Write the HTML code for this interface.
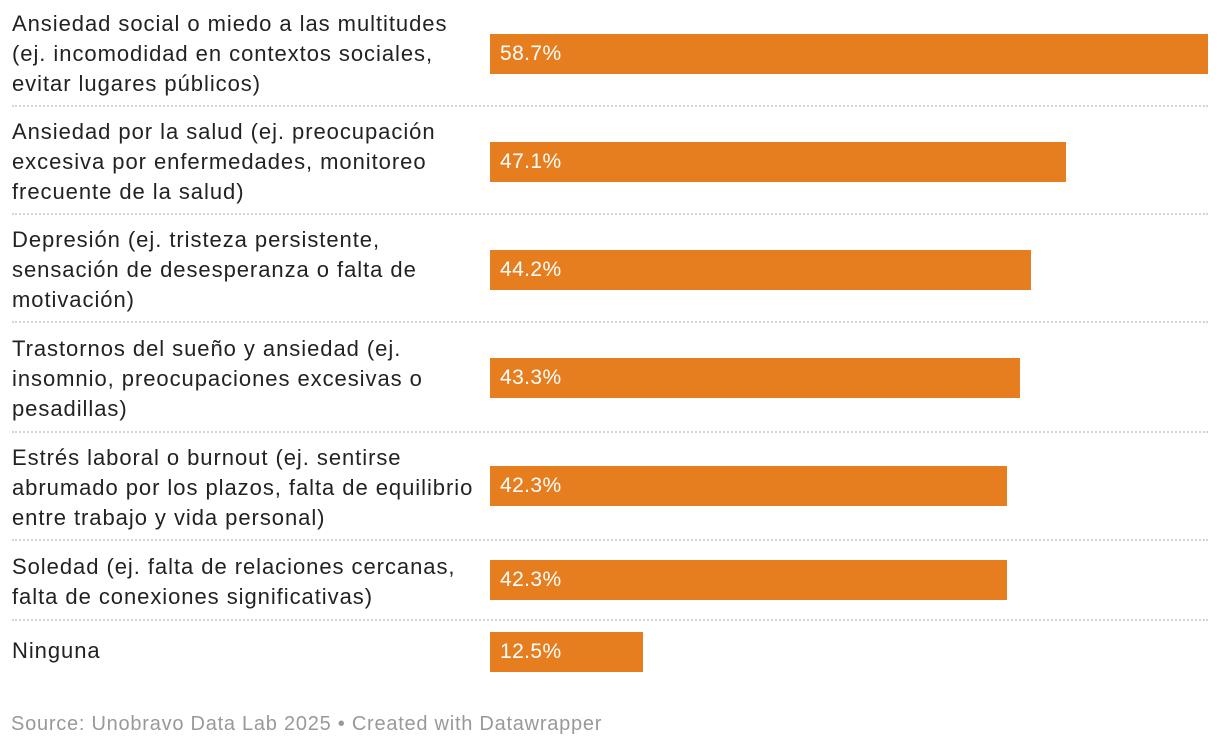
<!DOCTYPE html>
<html><head><meta charset="utf-8"><style>
body{margin:0;width:1220px;height:748px;background:#fff;position:relative;overflow:hidden;font-family:"Liberation Sans",sans-serif;}
.lbl{position:absolute;left:12px;width:480px;font-size:22px;letter-spacing:0.95px;line-height:30px;color:#222;white-space:nowrap;}
.bar{position:absolute;background:#e67e20;height:40px;}
.val{position:absolute;color:#fff;font-size:21px;letter-spacing:0.4px;line-height:40px;}
.sep{position:absolute;left:12px;width:1196px;border-top:2px dotted #d4d4d4;height:0;}
.src{position:absolute;left:11px;top:713px;font-size:20px;letter-spacing:0.75px;color:#999;}
</style></head><body>
<div id="chart"></div>
<div class="src">Source: Unobravo Data Lab 2025 • Created with Datawrapper</div>
<script>
const categories=["Ansiedad social o miedo a las multitudes<br>(ej. incomodidad en contextos sociales,<br>evitar lugares públicos)","Ansiedad por la salud (ej. preocupación<br>excesiva por enfermedades, monitoreo<br>frecuente de la salud)","Depresión (ej. tristeza persistente,<br>sensación de desesperanza o falta de<br>motivación)","Trastornos del sueño y ansiedad (ej.<br>insomnio, preocupaciones excesivas o<br>pesadillas)","Estrés laboral o burnout (ej. sentirse<br>abrumado por los plazos, falta de equilibrio<br>entre trabajo y vida personal)","Soledad (ej. falta de relaciones cercanas,<br>falta de conexiones significativas)","Ninguna"];
const values=[58.7,47.1,44.2,43.3,42.3,42.3,12.5];
const labels=["58.7%","47.1%","44.2%","43.3%","42.3%","42.3%","12.5%"];
const x0=490, pxPer=718/58.7;
function xs(v){return v*pxPer;}
const layoutLabelTop=[9,117,225,334,443,552,636];
const layoutBarTop=[34,142,250,358,466,560,632];
const layoutSep=[105,213,321,431,539,619];
const c=document.getElementById('chart');
categories.forEach((cat,i)=>{
  const l=document.createElement('div');l.className='lbl';l.style.top=layoutLabelTop[i]+'px';l.innerHTML=cat;
  
  
  c.appendChild(l);
  const b=document.createElement('div');b.className='bar';
  b.style.left=x0+'px';b.style.top=layoutBarTop[i]+'px';b.style.width=xs(values[i])+'px';
  
  
  c.appendChild(b);
  const v=document.createElement('div');v.className='val';v.style.left=(x0+10)+'px';v.style.top=layoutBarTop[i]+'px';v.textContent=labels[i];
  
  
  c.appendChild(v);
});
layoutSep.forEach(y=>{
  const s=document.createElement('div');s.className='sep';s.style.top=y+'px';
  
  
  c.appendChild(s);
});
</script>
</body></html>
